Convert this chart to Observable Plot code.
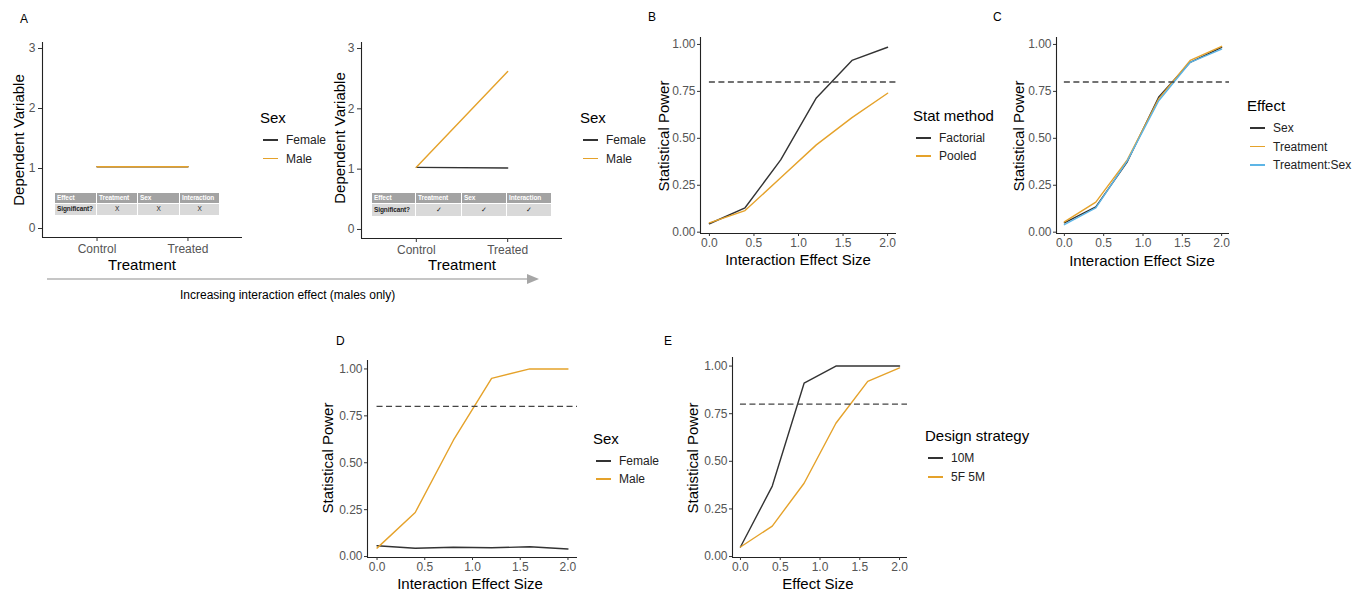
<!DOCTYPE html>
<html><head><meta charset="utf-8">
<script src="https://cdn.jsdelivr.net/npm/d3@7"></script>
<script src="https://cdn.jsdelivr.net/npm/@observablehq/plot@0.6"></script>
<style>
html,body{margin:0;padding:0;background:#fff;}
#fig{position:relative;width:1364px;height:590px;overflow:hidden;font-family:"Liberation Sans",Arial,Helvetica,sans-serif;color:#000;background:#fff;}
.t{position:absolute;white-space:nowrap;line-height:1;}
.cell{position:absolute;box-sizing:border-box;font-size:6.5px;line-height:1;display:flex;align-items:center;overflow:hidden;white-space:nowrap;letter-spacing:-0.1px;}
</style></head>
<body><div id="fig"></div>
<script>
// ---------------- DATA ----------------
const effectSizes = [0, 0.4, 0.8, 1.2, 1.6, 2.0];
const treatments = ["Control", "Treated"];
const sexes = ["Female", "Male"];
const a1Female = [1.03, 1.03];
const a1Male = [1.03, 1.03];
const a2Female = [1.03, 1.02];
const a2Male = [1.03, 2.62];
const statMethods = ["Factorial", "Pooled"];
const bFactorial = [0.045, 0.13, 0.385, 0.715, 0.915, 0.985];
const bPooled = [0.05, 0.115, 0.29, 0.465, 0.61, 0.74];
const effects = ["Sex", "Treatment", "Treatment:Sex"];
const cSex = [0.05, 0.135, 0.375, 0.72, 0.905, 0.985];
const cTreatment = [0.055, 0.16, 0.385, 0.71, 0.915, 0.99];
const cTreatSex = [0.04, 0.13, 0.38, 0.70, 0.905, 0.975];
const dFemale = [0.058, 0.044, 0.05, 0.047, 0.052, 0.04];
const dMale = [0.045, 0.235, 0.62, 0.95, 1.0, 1.0];
const strategies = ["10M", "5F 5M"];
const e10M = [0.05, 0.37, 0.91, 1.0, 1.0, 1.0];
const e5F5M = [0.05, 0.16, 0.385, 0.70, 0.92, 0.99];
const powerThreshold = 0.8;
const thresholdSpan = [0, 2.1];
const tableHeader = ["Effect", "Treatment", "Sex", "Interaction"];
const a1Significance = ["Significant?", "X", "X", "X"];
const a2Significance = ["Significant?", "\u2713", "\u2713", "\u2713"];
const powerTicks = [0, 0.25, 0.5, 0.75, 1];
const sizeTicks = [0, 0.5, 1, 1.5, 2];
const dvTicks = [0, 1, 2, 3];
const palette2 = ["#333333", "#E5A22A"];
const palette3 = ["#333333", "#E5A22A", "#5DB5E6"];

// ---------------- HELPERS ----------------
const FONT = '"Liberation Sans", Arial, Helvetica, sans-serif';
const fig = document.getElementById("fig");

function txt(x, y, s, {size = 12, anchor = "start", rotate = false, color = "#000"} = {}) {
  const d = document.createElement("div");
  d.className = "t";
  d.textContent = s;
  d.style.left = x + "px"; d.style.top = y + "px";
  d.style.fontSize = size + "px"; d.style.color = color;
  const tx = anchor === "middle" ? "-50%" : anchor === "end" ? "-100%" : "0";
  d.style.transform = `translate(${rotate ? "-50%" : tx}, -50%)` + (rotate ? " rotate(-90deg)" : "");
  fig.appendChild(d);
}

function legend(x, y, title, names, colors, step) {
  txt(x, y, title, {size: 15});
  names.forEach((n, i) => {
    const cy = y + 23 + i * step;
    const k = document.createElement("div");
    k.style.cssText = `position:absolute;left:${x + 3}px;top:${cy - 0.75}px;width:15px;height:1.5px;background:${colors[i]};`;
    fig.appendChild(k);
    txt(x + 26, cy, n, {size: 12, color: "#222"});
  });
}

function toRows(names, seriesValues, xs) {
  return names.flatMap((name, k) => seriesValues[k].map((v, i) => ({x: xs[i], y: v, series: name})));
}

function panel({fx0, fx1, fy0, fy1, xDomain, yDomain, xTicks, yTicks, xFmt, yFmt, rows, names, colors, threshold = true, tick = 3, pad = 2}) {
  const ml = 60, mr = 14, mt = 8, mb = 30;
  const marks = [
    Plot.line(rows, {x: "x", y: "y", stroke: "series", z: "series", strokeWidth: 1.4}),
  ];
  if (threshold) marks.push(Plot.ruleY([powerThreshold], {x1: thresholdSpan[0], x2: thresholdSpan[1], stroke: "#444", strokeWidth: 1.3, strokeDasharray: "6,3.5"}));
  marks.push(
    Plot.ruleX([xDomain[0]], {stroke: "#222", strokeWidth: 1.1}),
    Plot.ruleY([yDomain[0]], {stroke: "#222", strokeWidth: 1.1}),
    Plot.axisX({ticks: xTicks, tickFormat: xFmt, tickSize: tick, tickPadding: pad, fontSize: 12, stroke: "#333", fill: "#555", label: null}),
    Plot.axisY({ticks: yTicks, tickFormat: yFmt, tickSize: tick, tickPadding: pad, fontSize: 12, stroke: "#333", fill: "#555", label: null})
  );
  const svg = Plot.plot({
    width: fx1 - fx0 + ml + mr, height: fy1 - fy0 + mt + mb,
    marginLeft: ml, marginRight: mr, marginTop: mt, marginBottom: mb,
    x: {domain: xDomain}, y: {domain: yDomain},
    color: {domain: names, range: colors},
    style: {background: "transparent", overflow: "visible", fontFamily: FONT},
    marks
  });
  svg.style.position = "absolute";
  svg.style.left = (fx0 - ml) + "px";
  svg.style.top = (fy0 - mt) + "px";
  svg.style.maxWidth = "none";
  fig.appendChild(svg);
}

function sigTable(bounds, y0, h1, h2, header, row) {
  for (let i = 0; i < 4; i++) {
    const w = bounds[i + 1] - bounds[i];
    const hc = document.createElement("div");
    hc.className = "cell"; hc.textContent = header[i];
    hc.style.cssText += `left:${bounds[i]}px;top:${y0}px;width:${w}px;height:${h1}px;background:#a3a3a3;color:#fff;font-weight:bold;padding-left:2px;border-right:1px solid #fff;border-bottom:1px solid #fff;`;
    fig.appendChild(hc);
    const rc = document.createElement("div");
    rc.className = "cell"; rc.textContent = row[i];
    rc.style.cssText += `left:${bounds[i]}px;top:${y0 + h1}px;width:${w}px;height:${h2}px;background:#d9d9d9;color:#222;border-right:1px solid #fff;` +
      (i === 0 ? "padding-left:2px;font-weight:bold;" : "justify-content:center;");
    fig.appendChild(rc);
  }
}

// ---------------- PANEL A ----------------
const aXDomain = [0.4, 2.6];
const aYDomain = [-0.15, 3.1];
const aIdx = treatments.map((t, i) => i + 1);
const aFmt = i => treatments[i - 1];

panel({fx0: 42, fx1: 242, fy0: 42, fy1: 237, xDomain: aXDomain, yDomain: aYDomain, xTicks: aIdx, yTicks: dvTicks,
  xFmt: aFmt, yFmt: d => d, rows: toRows(sexes, [a1Female, a1Male], aIdx), names: sexes, colors: palette2, threshold: false, tick: 4, pad: 3});
panel({fx0: 361, fx1: 562, fy0: 42, fy1: 238, xDomain: aXDomain, yDomain: aYDomain, xTicks: aIdx, yTicks: dvTicks,
  xFmt: aFmt, yFmt: d => d, rows: toRows(sexes, [a2Female, a2Male], aIdx), names: sexes, colors: palette2, threshold: false, tick: 4, pad: 3});

sigTable([55, 97, 138, 180, 220], 193, 11, 11, tableHeader, a1Significance);
sigTable([372, 416, 462, 507, 552], 193, 11, 12, tableHeader, a2Significance);

txt(20, 19, "A", {size: 12});
txt(18, 140, "Dependent Variable", {size: 15, rotate: true});
txt(142, 264, "Treatment", {size: 15, anchor: "middle"});
txt(339, 138, "Dependent Variable", {size: 15, rotate: true});
txt(462, 264, "Treatment", {size: 15, anchor: "middle"});
legend(260, 117, "Sex", sexes, palette2, 18.5);
legend(580, 117, "Sex", sexes, palette2, 18.5);

// arrow
const arrowNS = "http://www.w3.org/2000/svg";
const arr = document.createElementNS(arrowNS, "svg");
arr.setAttribute("width", 1364); arr.setAttribute("height", 590);
arr.style.cssText = "position:absolute;left:0;top:0;pointer-events:none;";
arr.innerHTML = '<line x1="47" y1="279" x2="529" y2="279" stroke="#b3b3b3" stroke-width="1.6"/><polygon points="527,274 539,279 527,284" fill="#a6a6a6"/>';
fig.appendChild(arr);
txt(180, 295, "Increasing interaction effect (males only)", {size: 12});

// ---------------- PANEL B ----------------
const sizeDomain = [-0.1, 2.1];
const f2 = d3.format(".2f"), f1 = d3.format(".1f");
panel({fx0: 700, fx1: 896, fy0: 37, fy1: 233, xDomain: sizeDomain, yDomain: [-0.007, 1.037], xTicks: sizeTicks, yTicks: powerTicks,
  xFmt: f1, yFmt: f2, rows: toRows(statMethods, [bFactorial, bPooled], effectSizes), names: statMethods, colors: palette2});
txt(648, 17, "B", {size: 12});
txt(663, 136, "Statistical Power", {size: 15, rotate: true});
txt(798, 259, "Interaction Effect Size", {size: 15, anchor: "middle"});
legend(913, 115, "Stat method", statMethods, palette2, 18);

// ---------------- PANEL C ----------------
panel({fx0: 1056, fx1: 1229, fy0: 37, fy1: 233, xDomain: sizeDomain, yDomain: [-0.007, 1.037], xTicks: sizeTicks, yTicks: powerTicks,
  xFmt: f1, yFmt: f2, rows: toRows(effects, [cSex, cTreatment, cTreatSex], effectSizes), names: effects, colors: palette3});
txt(993, 17, "C", {size: 12});
txt(1018, 136, "Statistical Power", {size: 15, rotate: true});
txt(1142, 260, "Interaction Effect Size", {size: 15, anchor: "middle"});
legend(1247, 105, "Effect", effects, palette3, 18.5);

// ---------------- PANEL D ----------------
panel({fx0: 367, fx1: 577, fy0: 360, fy1: 557, xDomain: sizeDomain, yDomain: [-0.005, 1.045], xTicks: sizeTicks, yTicks: powerTicks,
  xFmt: f1, yFmt: f2, rows: toRows(sexes, [dFemale, dMale], effectSizes), names: sexes, colors: palette2});
txt(336, 341, "D", {size: 12});
txt(327, 458, "Statistical Power", {size: 15, rotate: true});
txt(470, 583, "Interaction Effect Size", {size: 15, anchor: "middle"});
legend(593, 438, "Sex", sexes, palette2, 18);

// ---------------- PANEL E ----------------
panel({fx0: 732, fx1: 907, fy0: 357, fy1: 557, xDomain: sizeDomain, yDomain: [-0.005, 1.045], xTicks: sizeTicks, yTicks: powerTicks,
  xFmt: f1, yFmt: f2, rows: toRows(strategies, [e10M, e5F5M], effectSizes), names: strategies, colors: palette2});
txt(664, 341, "E", {size: 12});
txt(692, 458, "Statistical Power", {size: 15, rotate: true});
txt(818, 583, "Effect Size", {size: 15, anchor: "middle"});
legend(925, 435, "Design strategy", strategies, palette2, 19);
</script>
</body></html>
